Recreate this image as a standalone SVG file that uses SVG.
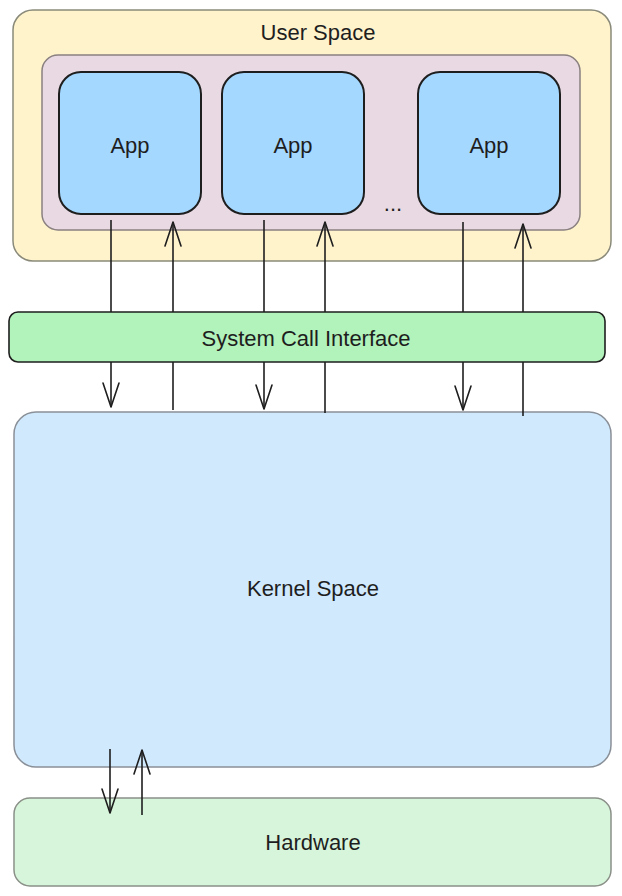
<svg xmlns="http://www.w3.org/2000/svg" width="622" height="896" viewBox="0 0 622 896">
<defs>
<marker id="ah" viewBox="0 0 30 30" refX="28" refY="15" markerWidth="30" markerHeight="30" markerUnits="userSpaceOnUse" orient="auto">
<path d="M4,7 L28,15 L4,23" fill="none" stroke="#1e1e1e" stroke-width="1.6" stroke-linecap="round" stroke-linejoin="round"/>
</marker>
<style>
.t{font-family:"Liberation Sans","DejaVu Sans",sans-serif;font-size:22px;fill:#1e1e1e;text-anchor:middle;dominant-baseline:central}
.app{fill:#a5d8ff;stroke:#1e1e1e;stroke-width:2}
.c{stroke:#1e1e1e;stroke-width:1.6;fill:none;marker-end:url(#ah)}
</style>
</defs>
<rect width="622" height="896" fill="#ffffff"/>
<g id="user-space">
<rect x="13" y="10" width="598" height="251" rx="20" fill="#fff3cc" stroke="#8a8a7a" stroke-width="1.5"/>
<text class="t" x="318" y="32">User Space</text>
</g>
<g id="app-group">
<rect x="42" y="55" width="538" height="175" rx="16" fill="#e8d9e3" stroke="#8a8080" stroke-width="1.5"/>
<text class="t" x="393" y="203" font-size="18">...</text>
</g>
<g id="app1">
<rect class="app" x="59" y="72" width="142" height="142" rx="22"/>
<text class="t" x="130" y="145">App</text>
</g>
<g id="app2">
<rect class="app" x="222" y="72" width="142" height="142" rx="22"/>
<text class="t" x="293" y="145">App</text>
</g>
<g id="app3">
<rect class="app" x="418" y="72" width="142" height="142" rx="22"/>
<text class="t" x="489" y="145">App</text>
</g>
<g id="kernel-space">
<rect x="14" y="412" width="597" height="355" rx="22" fill="#d0e9fd" stroke="#8a9098" stroke-width="1.5"/>
<text class="t" x="313" y="588">Kernel Space</text>
</g>
<g id="hardware">
<rect x="14" y="798" width="597" height="88" rx="16" fill="#d7f5da" stroke="#8a9088" stroke-width="1.5"/>
<text class="t" x="313" y="842">Hardware</text>
</g>
<g id="connectors">
<path class="c" d="M111,220 V407"/>
<path class="c" d="M173,410 V222"/>
<path class="c" d="M264,220 V409"/>
<path class="c" d="M325,413 V222"/>
<path class="c" d="M463,222 V410"/>
<path class="c" d="M523,416 V224"/>
<path class="c" d="M110,749 V813"/>
<path class="c" d="M142,815 V750"/>
</g>
<g id="syscall">
<rect x="9" y="312" width="596" height="50" rx="9" fill="#b2f2bb" stroke="#1e1e1e" stroke-width="1.6"/>
<text class="t" x="306" y="338">System Call Interface</text>
</g>
</svg>
